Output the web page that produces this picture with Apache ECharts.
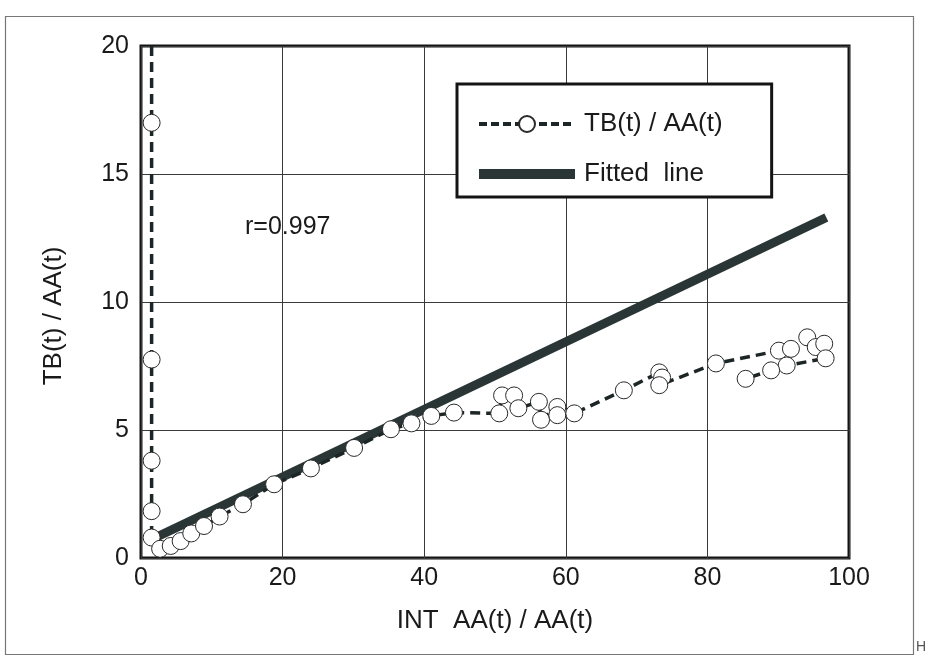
<!DOCTYPE html>
<html>
<head>
<meta charset="utf-8">
<title>TB(t) / AA(t)</title>
<script src="https://cdn.jsdelivr.net/npm/echarts@6/dist/echarts.min.js"></script>
<style>
  html, body { margin: 0; padding: 0; background: #fff; }
  #chart { width: 925px; height: 655px; }
</style>
</head>
<body>
<div id="chart"></div>
<script>
// values, in the order the dashed line joins them
var ratioPoints = [
    [1.5, 20.0], [1.5, 17.0], [1.5, 7.75], [1.5, 3.8], [1.5, 1.83], [1.5, 0.8],
    [2.7, 0.36], [4.2, 0.47], [5.6, 0.66], [7.1, 0.96], [8.9, 1.25], [11.1, 1.62],
    [14.4, 2.1], [18.8, 2.88], [24.0, 3.5], [30.1, 4.3], [35.3, 5.03], [38.2, 5.26],
    [41.0, 5.55], [44.2, 5.68], [50.6, 5.65], [51.0, 6.35], [52.7, 6.35], [53.3, 5.85],
    [56.2, 6.1], [56.5, 5.4], [58.8, 5.9], [58.8, 5.58], [61.2, 5.65], [68.2, 6.55],
    [73.2, 7.25], [73.6, 7.05], [73.2, 6.75], [81.2, 7.6], [90.1, 8.1], [91.8, 8.17],
    [94.1, 8.62], [95.3, 8.24], [96.5, 8.37], [96.7, 7.8], [91.2, 7.52], [89.0, 7.33],
    [85.4, 7.0]
];
// ends of the fitted straight line
var fittedLine = [[1.7, 0.75], [96.8, 13.3]];

var xTicks = [0, 20, 40, 60, 80, 100];
var yTicks = [0, 5, 10, 15, 20];

var seriesNames = ['TB(t) / AA(t)', 'Fitted  line'];
var xTitle = 'INT  AA(t) / AA(t)';
var yTitle = 'TB(t) / AA(t)';
var noteText = 'r=0.997';

var ink = '#1d2626';
var fitColor = '#2a3636';
var font = '"Liberation Sans", Arial, Helvetica, sans-serif';

var myChart = echarts.init(document.getElementById('chart'));

var option = {
    backgroundColor: '#fff',
    animation: false,
    grid: {
        left: 141, top: 46, right: 76, bottom: 97,
        show: true,
        borderWidth: 3,
        borderColor: '#141414',
        backgroundColor: 'transparent'
    },
    legend: {
        orient: 'vertical',
        left: 457,
        top: 84,
        padding: [27, 49, 10, 20],
        itemWidth: 96,
        itemHeight: 20,
        itemGap: 24,
        borderWidth: 3,
        borderColor: '#141414',
        backgroundColor: '#fff',
        textStyle: { fontFamily: font, fontSize: 26, lineHeight: 20, color: '#1a1a1a', padding: [0, 0, 0, 4] },
        data: [
            { name: seriesNames[0], lineStyle: { width: 4, type: [8, 4] } },
            // thick bar, same look as the fitted line
            { name: seriesNames[1], icon: 'path://M0,0H96V10H0Z', itemStyle: { color: fitColor } }
        ]
    },
    xAxis: {
        type: 'value',
        min: xTicks[0],
        max: xTicks[xTicks.length - 1],
        interval: 20,
        name: xTitle,
        nameLocation: 'middle',
        nameGap: 50,
        nameTextStyle: { fontFamily: font, fontSize: 26, color: '#1a1a1a' },
        axisLine: { show: false },
        axisTick: { show: false },
        axisLabel: { margin: 8, fontFamily: font, fontSize: 25, color: '#1a1a1a' },
        splitLine: { lineStyle: { color: '#3a3a3a', width: 1 } }
    },
    yAxis: {
        type: 'value',
        min: yTicks[0],
        max: yTicks[yTicks.length - 1],
        interval: 5,
        name: yTitle,
        nameLocation: 'middle',
        nameGap: 74,
        nameTextStyle: { fontFamily: font, fontSize: 26, color: '#1a1a1a', padding: [0, 28, 0, 0] },
        axisLine: { show: false },
        axisTick: { show: false },
        axisLabel: { margin: 12, fontFamily: font, fontSize: 25, color: '#1a1a1a' },
        splitLine: { lineStyle: { color: '#3a3a3a', width: 1 } }
    },
    graphic: [
        {
            type: 'text', left: 245, top: 215, z: 10,
            style: { text: noteText, fontFamily: font, fontSize: 25, fill: '#1a1a1a' }
        },
        {
            type: 'rect', left: 3, top: 14, silent: true, z: -1,
            shape: { width: 908, height: 638 },
            style: { fill: 'none', stroke: '#777', lineWidth: 1.2 }
        },
        {
            type: 'text', left: 916, top: 640,
            style: { text: 'H', fontFamily: font, fontSize: 14, fill: '#555' }
        }
    ],
    series: [
        {
            name: seriesNames[1],
            type: 'line',
            data: fittedLine,
            symbol: 'none',
            z: 2,
            lineStyle: { color: fitColor, width: 9, cap: 'butt' },
            itemStyle: { color: fitColor }
        },
        {
            name: seriesNames[0],
            type: 'line',
            data: ratioPoints.map(function (p, i) {
                return i === 0 ? { value: p, symbol: 'none' } : p;
            }),
            symbol: 'circle',
            symbolSize: 17,
            z: 3,
            lineStyle: { color: ink, width: 3.5, type: [10, 6] },
            itemStyle: { color: '#fff', borderColor: '#2a2a2a', borderWidth: 1 }
        }
    ]
};

myChart.setOption(option);
</script>
</body>
</html>
